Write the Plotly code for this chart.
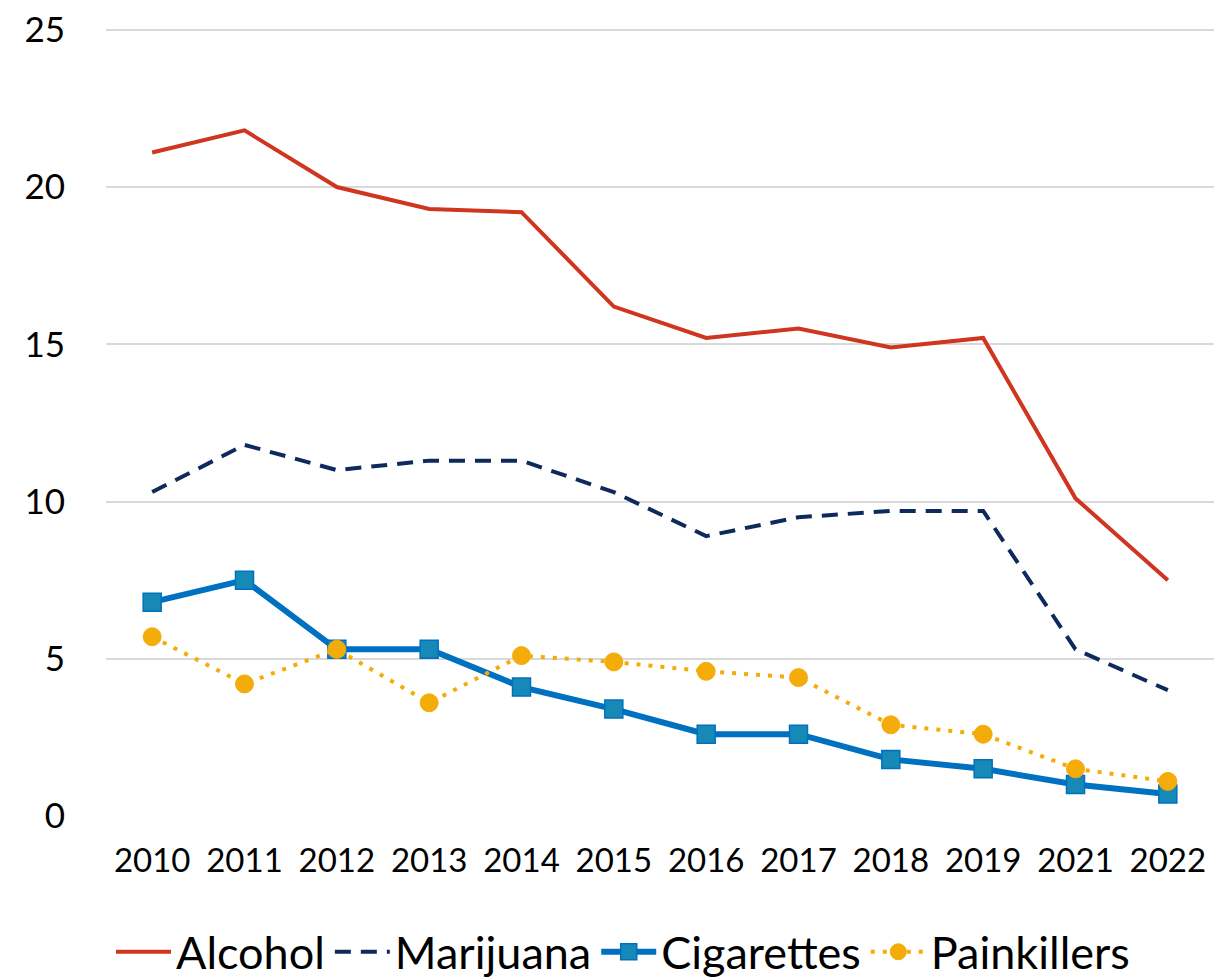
import plotly.graph_objects as go

years = ["2010", "2011", "2012", "2013", "2014", "2015", "2016", "2017", "2018", "2019", "2021", "2022"]
alcohol = [21.1, 21.8, 20.0, 19.3, 19.2, 16.2, 15.2, 15.5, 14.9, 15.2, 10.1, 7.5]
marijuana = [10.3, 11.8, 11.0, 11.3, 11.3, 10.3, 8.9, 9.5, 9.7, 9.7, 5.3, 4.0]
cigarettes = [6.8, 7.5, 5.3, 5.3, 4.1, 3.4, 2.6, 2.6, 1.8, 1.5, 1.0, 0.7]
painkillers = [5.7, 4.2, 5.3, 3.6, 5.1, 4.9, 4.6, 4.4, 2.9, 2.6, 1.5, 1.1]

fig = go.Figure()
fig.add_trace(go.Scatter(x=years, y=alcohol, name="Alcohol", mode="lines",
                         line=dict(color="#D0351F", width=4)))
fig.add_trace(go.Scatter(x=years, y=marijuana, name="Marijuana", mode="lines",
                         line=dict(color="#0E2A5C", width=4, dash="16px,10px")))
fig.add_trace(go.Scatter(x=years, y=cigarettes, name="Cigarettes", mode="lines+markers",
                         line=dict(color="#0070C0", width=6),
                         marker=dict(symbol="square", size=18, color="#1689B6",
                                     line=dict(color="#0070C0", width=1.5))))
fig.add_trace(go.Scatter(x=years, y=painkillers, name="Painkillers", mode="lines+markers",
                         line=dict(color="#F4AC0A", width=4, dash="4px,8px"),
                         marker=dict(symbol="circle", size=18, color="#F4AC0A",
                                     line=dict(color="#F4AC0A", width=1))))

fig.update_layout(
    width=1230, height=980,
    margin=dict(l=98, r=24, t=18, b=172),
    paper_bgcolor="white", plot_bgcolor="white",
    font=dict(family="Lato, Open Sans, sans-serif", color="#000000"),
    showlegend=True,
    legend=dict(orientation="h", x=0.5, xanchor="center", xref="container",
                y=0.0, yanchor="bottom", yref="container",
                font=dict(size=45), tracegroupgap=0, itemwidth=55),
    xaxis=dict(type="category", range=[-0.5, 11.5], showgrid=False, showline=False, ticks="",
               tickfont=dict(size=33), ticklabelstandoff=22, automargin=False),
    yaxis=dict(range=[0, 25.12], tickvals=[0, 5, 10, 15, 20, 25], showgrid=True,
               gridcolor="#D9D9D9", gridwidth=1.5,
               zeroline=False, showline=False, ticks="", automargin=False,
               ticklabeloverflow="allow",
               tickfont=dict(size=35), ticklabelstandoff=40),
)

fig.write_html("out.html")
